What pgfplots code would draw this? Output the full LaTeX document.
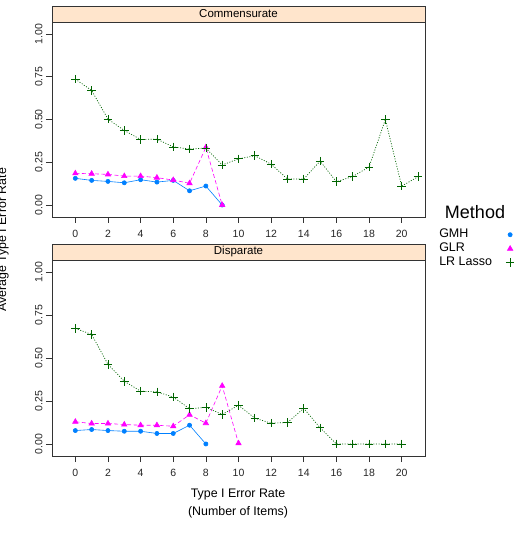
\documentclass[border=0pt]{standalone}
\usepackage{fontspec}
\setmainfont{Liberation Sans}
\usepackage{pgfplots}
\pgfplotsset{compat=1.18}
\definecolor{gmh}{HTML}{0080FF}
\definecolor{glr}{HTML}{FF00FF}
\definecolor{lasso}{HTML}{006400}
\definecolor{stripcol}{HTML}{FFE5CC}
\definecolor{frame}{HTML}{333333}

\pgfplotsset{panel/.style={
  scale only axis, width=373pt, height=195pt,
  xmin=-1.43, xmax=21.43, ymin=-0.07, ymax=1.07,
  xtick={0,2,...,20}, ytick={0,0.25,0.5,0.75,1},
  yticklabels={0.00,0.25,0.50,0.75,1.00},
  tick align=outside, major tick length=6pt, tick pos=left,
  axis line style={draw=frame},
  tick style={draw=frame, line width=0.6pt},
  /pgf/number format/assume math mode=true,
  ticklabel style={font=\fontsize{10.5}{12}\selectfont, text=black!85},
  xticklabel style={yshift=-4pt},
  yticklabel style={rotate=90, anchor=south},
  gmhs/.style={color=gmh, solid, line width=0.6pt, mark=*, mark size=2.1pt},
  glrs/.style={color=glr, dash pattern=on 4pt off 2.5pt, line width=0.6pt, mark=triangle*, mark size=3.1pt, mark options={solid}},
  lassos/.style={color=lasso, dash pattern=on 1pt off 1.6pt, line width=0.7pt, mark=+, mark size=4.3pt, mark options={solid, line width=0.7pt}},
}}

\begin{document}
\begin{tikzpicture}[x=1pt,y=1pt]
% ---------- top panel: Commensurate
\begin{axis}[panel, at={(52pt,317pt)}, anchor=south west,
  legend style={at={(1.035,-0.054)}, anchor=north west, draw=none, fill=none,
    font=\fontsize{12.5}{13}\selectfont, inner sep=0pt, row sep=0pt,
    nodes={inner sep=1pt, text height=9pt, text depth=3pt}},
  legend cell align=left, legend plot pos=right,
  legend image code/.code={\path[draw=none, fill=none] (0,0) rectangle (0.7cm,0); \draw[only marks] plot coordinates {(0.6cm,0cm)};}]
\addplot[gmhs] coordinates {(0,0.156)(1,0.144)(2,0.138)(3,0.130)(4,0.148)(5,0.134)(6,0.144)(7,0.083)(8,0.111)(9,0.0)};
\addlegendentry{GMH}
\addplot[glrs] coordinates {(0,0.185)(1,0.183)(2,0.179)(3,0.169)(4,0.169)(5,0.160)(6,0.146)(7,0.127)(8,0.337)(9,0.0)};
\addlegendentry{GLR}
\addplot[lassos] coordinates {(0,0.736)(1,0.670)(2,0.502)(3,0.436)(4,0.383)(5,0.385)(6,0.340)(7,0.327)(8,0.333)(9,0.234)(10,0.270)(11,0.288)(12,0.239)(13,0.152)(14,0.152)(15,0.257)(16,0.136)(17,0.167)(18,0.222)(19,0.500)(20,0.111)(21,0.165)};
\addlegendentry{LR Lasso}
\end{axis}
\draw[draw=frame, fill=stripcol] (52,512) rectangle (425,528);
\node[font=\fontsize{11.5}{13}\selectfont] at (238.5,520) {Commensurate};

% ---------- bottom panel: Disparate
\begin{axis}[panel, at={(52pt,78pt)}, anchor=south west, height=196pt]
\addplot[gmhs] coordinates {(0,0.078)(1,0.084)(2,0.078)(3,0.074)(4,0.074)(5,0.061)(6,0.061)(7,0.109)(8,0.0)};
\addplot[glrs] coordinates {(0,0.129)(1,0.119)(2,0.119)(3,0.113)(4,0.109)(5,0.109)(6,0.103)(7,0.170)(8,0.121)(9,0.338)(10,0.004)};
\addplot[lassos] coordinates {(0,0.672)(1,0.637)(2,0.463)(3,0.365)(4,0.307)(5,0.303)(6,0.273)(7,0.205)(8,0.213)(9,0.172)(10,0.225)(11,0.150)(12,0.121)(13,0.125)(14,0.207)(15,0.094)(16,0.0)(17,0.0)(18,0.0)(19,0.0)(20,0.0)};
\end{axis}
\draw[draw=frame, fill=stripcol] (52,274) rectangle (425,290);
\node[font=\fontsize{11.5}{13}\selectfont] at (238.5,282) {Disparate};

% ---------- titles
\node[font=\fontsize{18}{20}\selectfont] at (475,322) {Method};
\node[font=\fontsize{12.4}{14}\selectfont] at (238,39) {Type I Error Rate};
\node[font=\fontsize{12.4}{14}\selectfont] at (238,22) {(Number of Items)};
\node[rotate=90, anchor=base, font=\fontsize{12.4}{14}\selectfont] at (6,294) {Average Type I Error Rate};

\pgfresetboundingbox
\useasboundingbox (0,0) rectangle (522,534);
\end{tikzpicture}
\end{document}
